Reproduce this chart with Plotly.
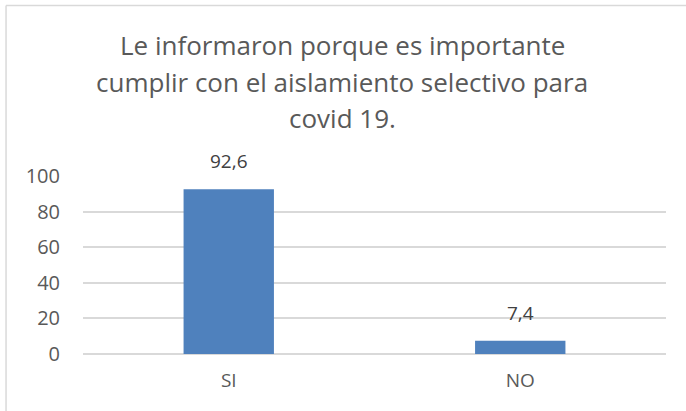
import plotly.graph_objects as go

# Data
categories = ["SI", "NO"]
values = [92.6, 7.4]
title_lines = [
    "Le informaron porque es importante",
    "cumplir con el aislamiento selectivo para",
    "covid 19.",
]

bar_color = "#4F81BD"
text_color = "#595959"
font_family = "Open Sans, Noto Sans, sans-serif"

fig = go.Figure(go.Bar(
    x=categories, y=values,
    marker=dict(color=bar_color, line=dict(width=0)),
    width=0.31,
    hoverinfo="skip",
))

# value labels above the bars
for cat, val in zip(categories, values):
    fig.add_annotation(
        x=cat, y=val, text=f"{val:.1f}".replace(".", ","),
        showarrow=False, yanchor="bottom", yshift=13,
        font=dict(size=19, color="#404040", family=font_family),
    )

# title, one annotation per line so the line spacing matches
for line, ypos in zip(title_lines, [1.736, 1.528, 1.326]):
    fig.add_annotation(
        xref="paper", yref="paper", x=0.445, y=ypos,
        xanchor="center", yanchor="middle", showarrow=False,
        text=line, font=dict(size=26, color=text_color, family=font_family),
    )

# chart border (top and left edges visible)
fig.add_shape(type="line", xref="paper", yref="paper",
              x0=-0.132, x1=1.05, y0=1.958, y1=1.958,
              line=dict(color="#D9D9D9", width=1.5))
fig.add_shape(type="line", xref="paper", yref="paper",
              x0=-0.132, x1=-0.132, y0=1.958, y1=-0.33,
              line=dict(color="#D9D9D9", width=1.5))

fig.update_layout(
    width=686, height=411,
    margin=dict(l=83, r=20, t=176, b=57),
    paper_bgcolor="white", plot_bgcolor="white",
    showlegend=False,
    separators=",.",
    xaxis=dict(
        showline=False, ticks="", showgrid=False, ticklabelstandoff=13,
        tickfont=dict(size=19, color=text_color, family=font_family),
    ),
    yaxis=dict(
        range=[0, 100], dtick=20, showgrid=True, gridcolor="#D9D9D9", gridwidth=1.5,
        zeroline=True, zerolinecolor="#D9D9D9", zerolinewidth=1.5,
        showline=False, ticks="", ticklabelstandoff=22,
        tickfont=dict(size=20, color=text_color, family=font_family),
    ),
)

fig.write_html("out.html", config={"displayModeBar": False},
               post_script="document.body.style.margin='0';")
